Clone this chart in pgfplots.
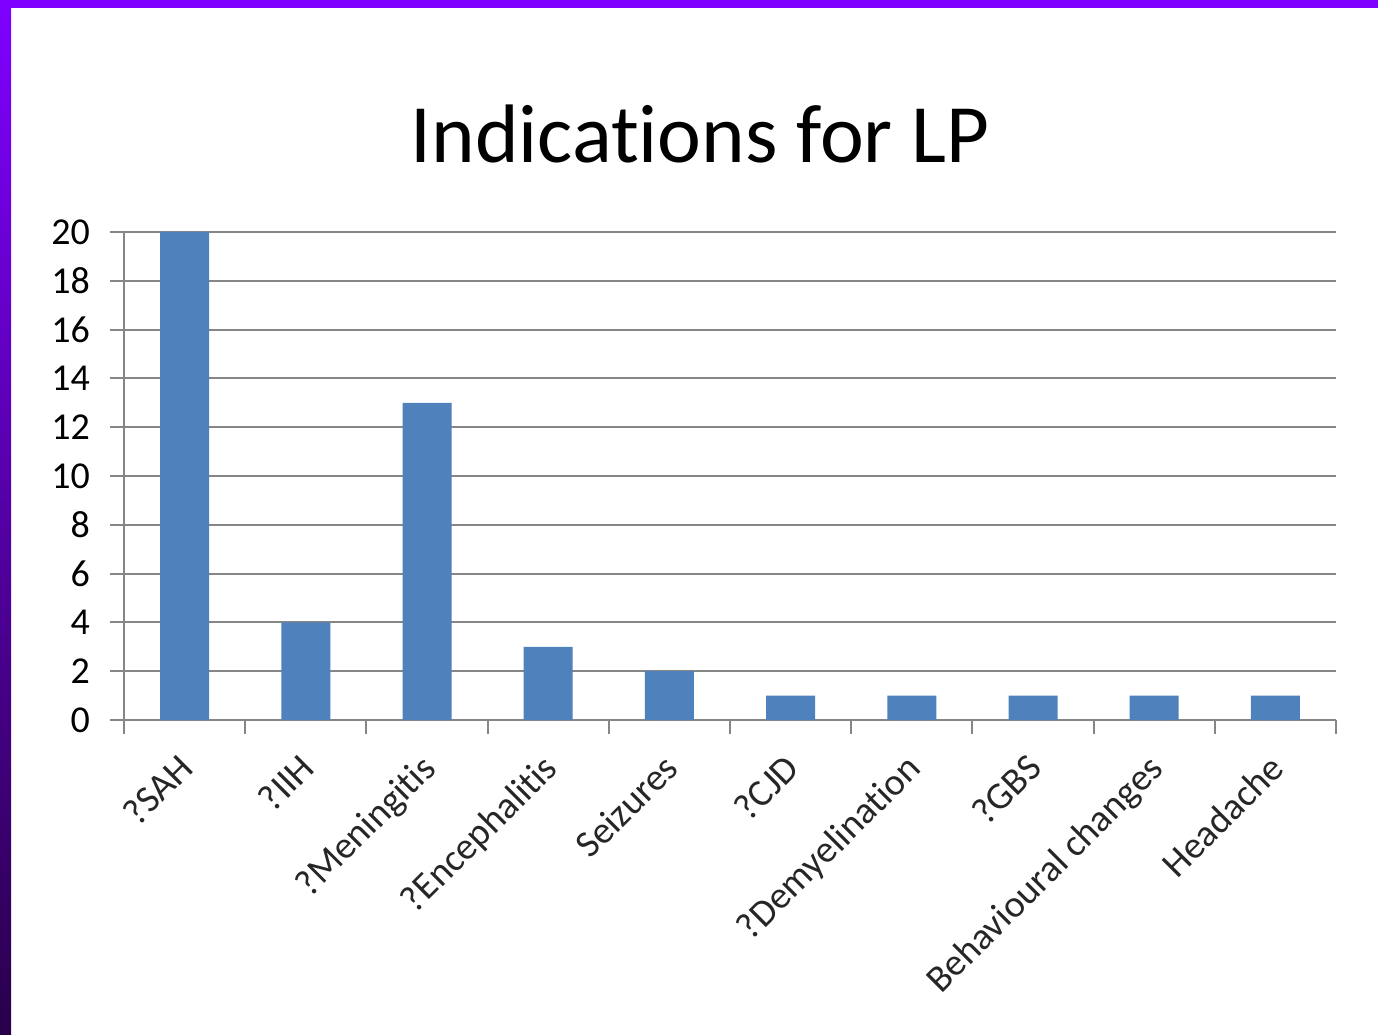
\documentclass[border=0pt]{standalone}
\usepackage{pgfplots}
\pgfplotsset{compat=1.18}
\usepackage{fontspec}
\setmainfont{Carlito}[Ligatures={NoCommon,NoRequired,NoContextual}]
\definecolor{barblue}{HTML}{4F81BD}
\definecolor{gridgray}{HTML}{868686}
\definecolor{frametop}{HTML}{7F00FF}
\definecolor{framebot}{HTML}{28004A}
\begin{document}
\begin{tikzpicture}[x=1pt,y=1pt]
  % slide background and frame
  \useasboundingbox (0,0) rectangle (1378,1034);
  \fill[white] (0,0) rectangle (1378,1034);
  \fill[frametop] (0,1026) rectangle (1378,1034);
  \shade[top color=frametop, bottom color=framebot] (0,0) rectangle (11,1034);
  % title
  \node[anchor=base, inner sep=0pt, font=\fontsize{83}{90}\selectfont] at (700,871) {Indications for LP};
  \begin{axis}[
    at={(124pt,314pt)}, anchor=south west,
    scale only axis, width=1212pt, height=488pt,
    xmin=-0.5, xmax=9.5, ymin=0, ymax=20,
    axis lines*=left,
    axis line style={gridgray, line width=2pt},
    ytick={0,2,...,20},
    ymajorgrids,
    grid style={gridgray, line width=2pt},
    major tick length=14pt,
    tick align=outside,
    tick style={gridgray, line width=2pt},
    % category boundaries carry the tick marks
    xtick={-0.5,0.5,...,9.5},
    xticklabels={},
    % category names sit at the bar centres
    extra x ticks={0,...,9},
    extra x tick labels={?SAH,?IIH,?Meningitis,?Encephalitis,Seizures,?CJD,?Demyelination,?GBS,Behavioural changes,Headache},
    extra x tick style={major tick length=0pt, xmajorgrids=false,
      xticklabel style={rotate=45, xshift=-28pt, yshift=-17pt, anchor=north east, inner sep=0pt,
        font=\fontsize{38}{42}\selectfont, text=black!85}},
    yticklabel style={anchor=east, inner sep=0pt, xshift=-20pt, font=\fontsize{38}{42}\selectfont},
    /pgf/number format/assume math mode=true,
    ybar, bar width=49pt,
    clip=false,
  ]
    \addplot[fill=barblue, draw=none] coordinates {
      (0,20) (1,4) (2,13) (3,3) (4,2) (5,1) (6,1) (7,1) (8,1) (9,1)
    };
  \end{axis}
\end{tikzpicture}
\end{document}
